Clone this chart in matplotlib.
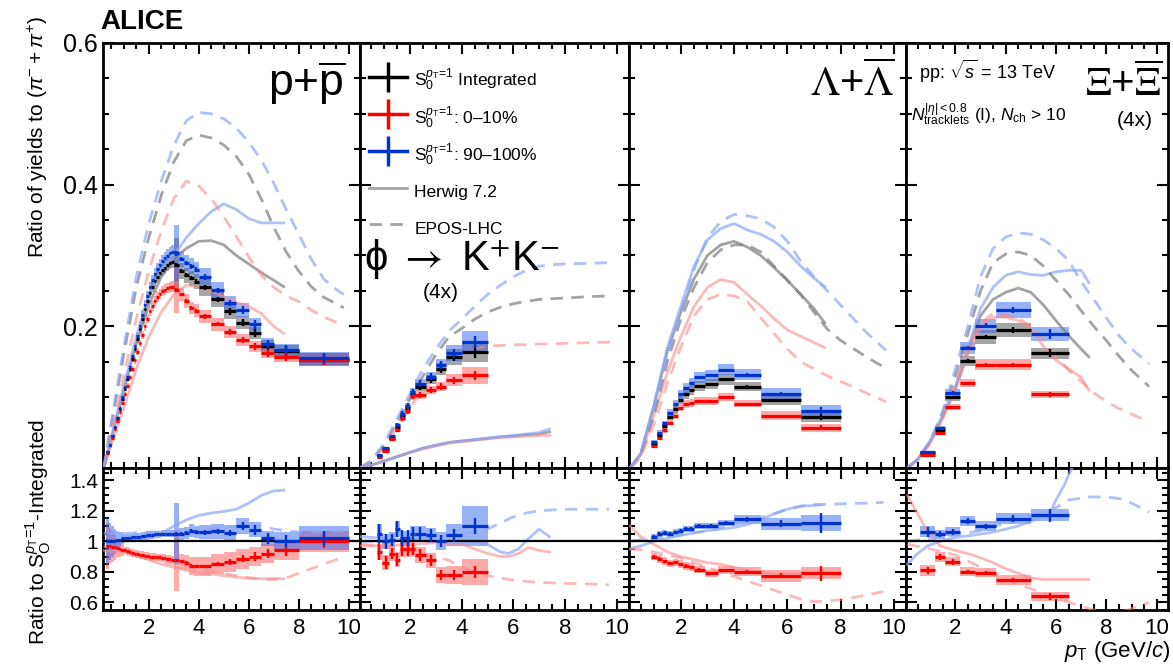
import matplotlib
matplotlib.use("Agg")
import matplotlib.pyplot as plt
from matplotlib.patches import Rectangle
from matplotlib.lines import Line2D
from matplotlib.ticker import MultipleLocator, FixedLocator, FixedFormatter

plt.rcParams['font.family'] = ['Liberation Sans', 'DejaVu Sans']
plt.rcParams['mathtext.fontset'] = 'custom'
plt.rcParams['mathtext.rm'] = 'Liberation Sans'
plt.rcParams['mathtext.it'] = 'Liberation Sans:italic'
plt.rcParams['mathtext.bf'] = 'Liberation Sans:bold'

# ---------------- p + pbar ----------------
p_edges = [0.3, 0.4, 0.5, 0.6, 0.7, 0.8, 0.9, 1.0, 1.1, 1.2, 1.3, 1.4, 1.5, 1.6, 1.7, 1.8, 1.9, 2.0,
           2.1, 2.2, 2.3, 2.4, 2.5, 2.6, 2.7, 2.8, 2.9, 3.0, 3.2, 3.4, 3.6, 3.8, 4.0, 4.5, 5.0, 5.5,
           6.0, 6.5, 7.0, 8.0, 10.0]
p_int = [0.022, 0.033, 0.045, 0.057, 0.07, 0.084, 0.098, 0.112, 0.126, 0.14, 0.154, 0.168, 0.182,
         0.196, 0.21, 0.224, 0.236, 0.247, 0.256, 0.264, 0.27, 0.275, 0.279, 0.283, 0.286, 0.289, 0.291,
         0.287, 0.278, 0.272, 0.268, 0.263, 0.255, 0.238, 0.221, 0.205, 0.19, 0.172, 0.165, 0.153]
p_low = [0.021, 0.032, 0.043, 0.055, 0.067, 0.079, 0.092, 0.104, 0.116, 0.128, 0.14, 0.152, 0.164,
         0.176, 0.188, 0.2, 0.211, 0.221, 0.229, 0.236, 0.242, 0.246, 0.25, 0.252, 0.254, 0.255, 0.256,
         0.252, 0.245, 0.236, 0.226, 0.222, 0.214, 0.203, 0.192, 0.181, 0.172, 0.163, 0.157, 0.153]
p_high = [0.022, 0.033, 0.045, 0.058, 0.071, 0.085, 0.1, 0.114, 0.129, 0.143, 0.158, 0.172, 0.187,
          0.201, 0.216, 0.23, 0.243, 0.255, 0.265, 0.274, 0.281, 0.287, 0.292, 0.296, 0.3, 0.303, 0.305,
          0.303, 0.295, 0.289, 0.285, 0.28, 0.27, 0.251, 0.233, 0.223, 0.203, 0.175, 0.167, 0.155]
p_rlow = [0.97, 0.97, 0.965, 0.96, 0.955, 0.95, 0.945, 0.94, 0.935, 0.93, 0.925, 0.92, 0.915, 0.91,
          0.91, 0.905, 0.905, 0.9, 0.9, 0.9, 0.895, 0.895, 0.89, 0.89, 0.885, 0.885, 0.88,
          0.875, 0.87, 0.86, 0.84, 0.835, 0.835, 0.85, 0.865, 0.885, 0.9, 0.92, 0.94, 1.0]
p_rhigh = [1.0, 1.0, 1.0, 1.0, 1.01, 1.01, 1.02, 1.02, 1.02, 1.02, 1.025, 1.03, 1.03, 1.03, 1.035,
           1.035, 1.04, 1.04, 1.04, 1.045, 1.045, 1.045, 1.05, 1.05, 1.05, 1.05, 1.05,
           1.05, 1.05, 1.055, 1.07, 1.06, 1.06, 1.065, 1.055, 1.1, 1.075, 1.02, 1.0, 1.02]
p_stat = [0.004] * 27 + [0.01, 0.01, 0.01, 0.012, 0.012, 0.015, 0.015, 0.02, 0.025, 0.03, 0.035, 0.04, 0.045]
p_sys = [0.03] * 27 + [0.13, 0.04, 0.04, 0.04, 0.04, 0.045, 0.045, 0.045, 0.045, 0.045, 0.05, 0.05, 0.06]
p_rsys_low = [0.15, 0.12, 0.1, 0.08, 0.06, 0.05, 0.04] + [0.025] * 20 + \
             [0.2, 0.05, 0.05, 0.06, 0.06, 0.06, 0.065, 0.065, 0.065, 0.065, 0.065, 0.065, 0.07]
p_rsys_high = [0.15, 0.12, 0.1, 0.08, 0.06, 0.05, 0.04] + [0.025] * 20 + \
              [0.2, 0.04, 0.04, 0.04, 0.04, 0.045, 0.05, 0.05, 0.05, 0.05, 0.05, 0.06, 0.08]

p_hw_x = [0.2, 1.0, 1.5, 2.0, 2.5, 3.0, 3.5, 4.0, 4.5, 5.0, 5.5, 6.0, 6.5, 7.0, 7.4]
p_hw_int = [0.0, 0.11, 0.175, 0.23, 0.27, 0.295, 0.31, 0.32, 0.321, 0.315, 0.3, 0.288, 0.276, 0.265, 0.256]
p_hw_low = [0.0, 0.085, 0.14, 0.185, 0.22, 0.245, 0.258, 0.256, 0.25, 0.242, 0.234, 0.228, 0.218, 0.2, 0.19]
p_hw_high = [0.0, 0.115, 0.185, 0.245, 0.28, 0.3, 0.325, 0.345, 0.362, 0.373, 0.365, 0.352, 0.346, 0.346, 0.346]
p_hw_rlow = [0.94, 0.93, 0.91, 0.88, 0.85, 0.83, 0.81, 0.795, 0.785, 0.775, 0.765, 0.76, 0.755, 0.755, 0.755]
p_hw_rhigh = [1.0, 1.0, 1.01, 1.02, 1.05, 1.1, 1.14, 1.17, 1.185, 1.195, 1.21, 1.25, 1.3, 1.33, 1.335]
p_ep_x = [0.2, 1.0, 1.5, 2.0, 2.5, 3.0, 3.5, 4.0, 4.5, 5.0, 5.5, 6.0, 6.5, 7.0, 7.5, 8.0, 8.5, 9.0, 9.5, 9.8]
p_ep_int = [0.0, 0.16, 0.255, 0.325, 0.385, 0.432, 0.462, 0.47, 0.466, 0.456, 0.44, 0.415, 0.38, 0.34,
            0.305, 0.278, 0.256, 0.241, 0.232, 0.226]
p_ep_low = [0.0, 0.13, 0.21, 0.278, 0.335, 0.38, 0.405, 0.398, 0.38, 0.355, 0.327, 0.298, 0.272, 0.255,
            0.243, 0.235, 0.223, 0.213, 0.206, 0.2]
p_ep_high = [0.0, 0.17, 0.27, 0.345, 0.405, 0.455, 0.49, 0.502, 0.5, 0.493, 0.48, 0.46, 0.435, 0.402,
             0.365, 0.33, 0.295, 0.267, 0.252, 0.245]
p_ep_rlow = [0.97, 0.95, 0.92, 0.88, 0.865, 0.85, 0.835, 0.82, 0.805, 0.79, 0.775, 0.76, 0.75, 0.75,
             0.76, 0.79, 0.82, 0.85, 0.88, 0.9]
p_ep_rhigh = [1.05, 1.05, 1.055, 1.06, 1.06, 1.06, 1.065, 1.07, 1.08, 1.09, 1.1, 1.11, 1.1, 1.08,
              1.07, 1.06, 1.06, 1.06, 1.065, 1.07]

# ---------------- phi (4x) ----------------
phi_edges = [0.7, 0.9, 1.2, 1.4, 1.6, 1.8, 2.0, 2.2, 2.6, 3.0, 3.4, 4.0, 5.0]
phi_int = [0.017, 0.027, 0.043, 0.058, 0.073, 0.085, 0.104, 0.114, 0.125, 0.14, 0.157, 0.164]
phi_low = [0.015, 0.024, 0.041, 0.054, 0.07, 0.08, 0.101, 0.103, 0.11, 0.115, 0.124, 0.131]
phi_high = [0.018, 0.028, 0.045, 0.061, 0.076, 0.087, 0.107, 0.119, 0.129, 0.145, 0.162, 0.178]
phi_rlow = [0.93, 0.86, 0.92, 0.88, 0.95, 0.95, 0.95, 0.91, 0.875, 0.78, 0.78, 0.8]
phi_rhigh = [1.05, 1.0, 1.01, 1.08, 1.02, 1.02, 1.05, 1.05, 1.04, 1.0, 1.04, 1.1]
phi_stat = [0.06, 0.05, 0.04, 0.05, 0.05, 0.05, 0.04, 0.04, 0.04, 0.04, 0.04, 0.05]
phi_sys = [0.05] * 9 + [0.06, 0.07, 0.09]
phi_rsys_low = [0.05] * 10 + [0.06, 0.085]
phi_rsys_high = [0.06, 0.05, 0.05, 0.05, 0.05, 0.05, 0.05, 0.05, 0.05, 0.06, 0.07, 0.13]

phi_hw_x = [0.05, 0.5, 1.0, 1.5, 2.0, 2.5, 3.0, 3.5, 4.0, 4.5, 5.0, 5.5, 6.0, 6.5, 7.0, 7.4]
phi_hw_int = [0.0, 0.004, 0.01, 0.016, 0.022, 0.028, 0.032, 0.036, 0.038, 0.04, 0.042, 0.044, 0.045, 0.047, 0.048, 0.051]
phi_hw_low = [0.0, 0.004, 0.01, 0.016, 0.022, 0.027, 0.031, 0.035, 0.037, 0.039, 0.041, 0.043, 0.044, 0.045, 0.046, 0.046]
phi_hw_high = [0.0, 0.004, 0.01, 0.016, 0.022, 0.028, 0.032, 0.036, 0.038, 0.04, 0.042, 0.044, 0.046, 0.048, 0.05, 0.055]
phi_hwr_x = [0.1, 1.0, 2.0, 3.0, 4.0, 4.5, 5.0, 5.5, 5.8, 6.2, 6.6, 7.0, 7.4]
phi_hw_rlow = [0.97, 0.97, 0.98, 0.99, 0.98, 0.95, 0.92, 0.9, 0.9, 0.92, 0.96, 0.94, 0.93]
phi_hw_rhigh = [1.03, 1.02, 1.01, 1.0, 1.0, 1.0, 0.98, 0.93, 0.92, 0.95, 1.02, 1.08, 1.03]
phi_ep_x = [0.05, 0.5, 1.0, 1.5, 2.0, 2.5, 3.0, 3.5, 4.0, 4.5, 5.0, 5.5, 6.0, 6.5, 7.0, 7.5, 8.0, 9.0, 9.8]
phi_ep_int = [0.0, 0.01, 0.033, 0.065, 0.098, 0.13, 0.16, 0.185, 0.197, 0.21, 0.22, 0.227, 0.232, 0.235,
              0.238, 0.239, 0.24, 0.242, 0.243]
phi_ep_low = [0.0, 0.009, 0.03, 0.058, 0.086, 0.11, 0.13, 0.148, 0.16, 0.168, 0.172, 0.173, 0.174, 0.174,
              0.175, 0.175, 0.176, 0.177, 0.178]
phi_ep_high = [0.0, 0.01, 0.035, 0.07, 0.105, 0.14, 0.168, 0.193, 0.21, 0.228, 0.245, 0.258, 0.27, 0.279,
               0.285, 0.287, 0.288, 0.289, 0.29]
phi_epr_x = [0.1, 1.0, 2.0, 3.0, 3.5, 4.0, 4.5, 5.0, 5.5, 6.0, 6.5, 7.0, 8.0, 9.0, 9.7]
phi_ep_rlow = [0.98, 0.97, 0.93, 0.9, 0.875, 0.83, 0.8, 0.775, 0.76, 0.745, 0.738, 0.73, 0.725, 0.72, 0.715]
phi_ep_rhigh = [1.0, 1.0, 1.01, 1.03, 1.04, 1.05, 1.06, 1.08, 1.12, 1.16, 1.185, 1.2, 1.21, 1.21, 1.21]

# ---------------- Lambda ----------------
lam_edges = [0.9, 1.1, 1.3, 1.5, 1.7, 1.9, 2.1, 2.3, 2.5, 2.9, 3.4, 4.0, 5.0, 6.5, 8.0]
lam_int = [0.034, 0.046, 0.059, 0.072, 0.083, 0.096, 0.104, 0.11, 0.116, 0.118, 0.125, 0.115, 0.096, 0.072]
lam_low = [0.031, 0.042, 0.053, 0.064, 0.074, 0.085, 0.09, 0.092, 0.094, 0.095, 0.1, 0.091, 0.074, 0.057]
lam_high = [0.037, 0.05, 0.063, 0.078, 0.09, 0.104, 0.113, 0.12, 0.128, 0.131, 0.139, 0.132, 0.105, 0.081]
lam_rlow = [0.9, 0.885, 0.87, 0.855, 0.862, 0.85, 0.84, 0.83, 0.815, 0.79, 0.81, 0.8, 0.775, 0.79]
lam_rhigh = [1.03, 1.05, 1.055, 1.05, 1.06, 1.07, 1.08, 1.08, 1.1, 1.1, 1.12, 1.145, 1.115, 1.12]
lam_stat = [0.01] * 11 + [0.015, 0.02, 0.06]
lam_sys = [0.06] * 12 + [0.08, 0.1]
lam_rsys_low = [0.025] * 11 + [0.03, 0.04, 0.04]
lam_rsys_high = [0.02] * 11 + [0.03, 0.04, 0.05]

lam_hw_x = [0.1, 0.5, 1.0, 1.5, 2.0, 2.5, 3.0, 3.5, 4.0, 4.5, 5.0, 5.5, 6.0, 6.5, 7.0, 7.4]
lam_hw_int = [0.0, 0.02, 0.088, 0.165, 0.22, 0.267, 0.3, 0.315, 0.32, 0.312, 0.3, 0.283, 0.265, 0.245, 0.225, 0.205]
lam_hw_low = [0.0, 0.018, 0.075, 0.135, 0.185, 0.228, 0.255, 0.266, 0.262, 0.245, 0.229, 0.211, 0.195, 0.186, 0.177, 0.17]
lam_hw_high = [0.0, 0.02, 0.09, 0.17, 0.228, 0.285, 0.322, 0.338, 0.345, 0.336, 0.33, 0.32, 0.305, 0.285, 0.268, 0.256]
lam_hwr_x = [0.1, 0.5, 1.0, 1.5, 2.0, 2.5, 3.0, 3.5, 4.0, 4.5, 5.0, 5.5, 6.0, 6.5, 7.0, 7.3]
lam_hw_rlow = [1.1, 1.03, 0.98, 0.93, 0.9, 0.88, 0.86, 0.85, 0.83, 0.81, 0.8, 0.79, 0.79, 0.79, 0.79, 0.8]
lam_hw_rhigh = [0.95, 0.97, 1.0, 1.02, 1.04, 1.055, 1.07, 1.08, 1.09, 1.11, 1.14, 1.18, 1.21, 1.23, 1.235, 1.24]
lam_ep_x = [0.1, 0.5, 1.0, 1.5, 2.0, 2.5, 3.0, 3.5, 4.0, 4.5, 5.0, 5.5, 6.0, 6.5, 7.0, 7.5, 8.0, 8.5, 9.0, 9.5, 9.7]
lam_ep_int = [0.0, 0.018, 0.075, 0.15, 0.21, 0.255, 0.29, 0.308, 0.315, 0.315, 0.305, 0.285, 0.265, 0.245,
              0.22, 0.196, 0.18, 0.168, 0.156, 0.145, 0.141]
lam_ep_low = [0.0, 0.015, 0.062, 0.12, 0.17, 0.215, 0.238, 0.245, 0.243, 0.235, 0.212, 0.19, 0.168, 0.15,
              0.14, 0.13, 0.122, 0.114, 0.105, 0.097, 0.093]
lam_ep_high = [0.0, 0.02, 0.085, 0.16, 0.22, 0.28, 0.325, 0.348, 0.358, 0.356, 0.352, 0.34, 0.32, 0.292,
               0.27, 0.25, 0.23, 0.21, 0.19, 0.173, 0.166]
lam_epr_x = [0.1, 0.5, 1.0, 2.0, 3.0, 3.5, 4.0, 4.5, 5.0, 5.5, 6.0, 6.5, 7.0, 7.5, 8.0, 8.5, 9.0, 9.6]
lam_ep_rlow = [0.95, 0.945, 0.93, 0.89, 0.83, 0.8, 0.77, 0.74, 0.71, 0.68, 0.65, 0.62, 0.605, 0.608,
               0.618, 0.632, 0.65, 0.67]
lam_ep_rhigh = [1.0, 1.01, 1.02, 1.04, 1.07, 1.09, 1.11, 1.13, 1.155, 1.18, 1.21, 1.23, 1.24, 1.242,
                1.245, 1.248, 1.25, 1.255]

# ---------------- Xi (4x) ----------------
xi_edges = [0.6, 1.2, 1.6, 2.2, 2.8, 3.6, 5.0, 6.5]
xi_int = [0.021, 0.054, 0.1, 0.151, 0.185, 0.195, 0.162]
xi_low = [0.018, 0.05, 0.086, 0.12, 0.146, 0.146, 0.104]
xi_high = [0.023, 0.057, 0.106, 0.17, 0.201, 0.223, 0.189]
xi_rlow = [0.81, 0.897, 0.865, 0.8, 0.794, 0.746, 0.639]
xi_rhigh = [1.062, 1.047, 1.062, 1.133, 1.1, 1.148, 1.17]
xi_stat = [0.03, 0.02, 0.02, 0.015, 0.015, 0.02, 0.035]
xi_sys = [0.05] * 7
xi_rsys_low = [0.035, 0.03, 0.03, 0.03, 0.03, 0.03, 0.03]
xi_rsys_high = [0.035, 0.03, 0.03, 0.035, 0.03, 0.035, 0.04]

xi_hw_x = [0.1, 0.5, 1.0, 1.5, 2.0, 2.5, 3.0, 3.5, 4.0, 4.5, 5.0, 5.5, 6.0, 6.5, 7.0, 7.3]
xi_hw_int = [0.0, 0.012, 0.037, 0.072, 0.112, 0.165, 0.215, 0.238, 0.248, 0.254, 0.248, 0.23, 0.208, 0.187, 0.168, 0.157]
xi_hw_low = [0.0, 0.012, 0.035, 0.07, 0.11, 0.16, 0.2, 0.213, 0.213, 0.208, 0.196, 0.172, 0.152, 0.14, 0.128, 0.11]
xi_hw_high = [0.0, 0.012, 0.038, 0.075, 0.115, 0.17, 0.225, 0.255, 0.272, 0.277, 0.273, 0.272, 0.277, 0.279, 0.279, 0.262]
xi_hwr_x = [0.1, 0.5, 0.9, 1.4, 2.0, 2.7, 3.5, 4.0, 4.5, 5.0, 5.5, 5.8, 6.0, 6.3, 6.55, 7.0, 7.3]
xi_hw_rlow = [1.3, 1.18, 1.06, 0.97, 0.94, 0.91, 0.86, 0.82, 0.79, 0.76, 0.75, 0.75, 0.75, 0.75, 0.75, 0.75, 0.75]
xi_hw_rhigh = [0.85, 0.92, 0.97, 1.0, 1.025, 1.04, 1.06, 1.08, 1.1, 1.13, 1.17, 1.2, 1.27, 1.36, 1.45, 1.6, 1.65]
xi_ep_x = [0.1, 0.5, 1.0, 1.5, 2.0, 2.5, 3.0, 3.5, 4.0, 4.5, 5.0, 5.5, 6.0, 6.5, 7.0, 7.5, 8.0, 8.5, 9.0, 9.7]
xi_ep_int = [0.0, 0.012, 0.037, 0.078, 0.13, 0.19, 0.25, 0.29, 0.302, 0.305, 0.3, 0.285, 0.265, 0.245,
             0.222, 0.2, 0.18, 0.158, 0.138, 0.115]
xi_ep_low = [0.0, 0.012, 0.036, 0.073, 0.12, 0.17, 0.205, 0.218, 0.216, 0.212, 0.2, 0.182, 0.158, 0.138,
             0.122, 0.106, 0.094, 0.084, 0.076, 0.065]
xi_ep_high = [0.0, 0.012, 0.038, 0.08, 0.14, 0.2, 0.27, 0.31, 0.326, 0.332, 0.33, 0.322, 0.31, 0.293,
              0.263, 0.238, 0.212, 0.187, 0.168, 0.147]
xi_epr_x = [0.1, 1.0, 2.0, 3.0, 4.0, 5.0, 5.8, 6.5, 7.3, 8.0, 8.5, 9.0, 9.7]
xi_ep_rlow = [0.98, 0.95, 0.91, 0.83, 0.75, 0.69, 0.64, 0.6, 0.56, 0.53, 0.53, 0.56, 0.6]
xi_ep_rhigh = [1.0, 1.02, 1.04, 1.07, 1.12, 1.16, 1.2, 1.27, 1.29, 1.29, 1.28, 1.25, 1.19]

# colours
C_INT, C_LOW, C_HIGH = 'black', '#ff0000', '#0033cc'
F_INT, F_LOW, F_HIGH = (0.3, 0.3, 0.3, 0.5), (1.0, 0.25, 0.25, 0.45), (0.2, 0.4, 0.95, 0.5)
M_INT, M_LOW, M_HIGH = (0.5, 0.5, 0.5, 0.72), (0.97, 0.55, 0.55, 0.6), (0.55, 0.66, 0.97, 0.7)
DASH = (0, (4.5, 3))

panels = [
    dict(edges=p_edges, int=p_int, low=p_low, high=p_high, rlow=p_rlow, rhigh=p_rhigh, stat=p_stat,
         sys=p_sys, rsl=p_rsys_low, rsh=p_rsys_high,
         hw=(p_hw_x, p_hw_int, p_hw_low, p_hw_high), hwr=(p_hw_x, p_hw_rlow, p_hw_rhigh),
         ep=(p_ep_x, p_ep_int, p_ep_low, p_ep_high), epr=(p_ep_x, p_ep_rlow, p_ep_rhigh),
         px=(103, 360), xlim=(0.17, 10.45)),
    dict(edges=phi_edges, int=phi_int, low=phi_low, high=phi_high, rlow=phi_rlow, rhigh=phi_rhigh,
         stat=phi_stat, sys=phi_sys, rsl=phi_rsys_low, rsh=phi_rsys_high,
         hw=(phi_hw_x, phi_hw_int, phi_hw_low, phi_hw_high), hwr=(phi_hwr_x, phi_hw_rlow, phi_hw_rhigh),
         ep=(phi_ep_x, phi_ep_int, phi_ep_low, phi_ep_high), epr=(phi_epr_x, phi_ep_rlow, phi_ep_rhigh),
         px=(360, 629), xlim=(0.06, 10.48)),
    dict(edges=lam_edges, int=lam_int, low=lam_low, high=lam_high, rlow=lam_rlow, rhigh=lam_rhigh,
         stat=lam_stat, sys=lam_sys, rsl=lam_rsys_low, rsh=lam_rsys_high,
         hw=(lam_hw_x, lam_hw_int, lam_hw_low, lam_hw_high), hwr=(lam_hwr_x, lam_hw_rlow, lam_hw_rhigh),
         ep=(lam_ep_x, lam_ep_int, lam_ep_low, lam_ep_high), epr=(lam_epr_x, lam_ep_rlow, lam_ep_rhigh),
         px=(629, 906), xlim=(0.06, 10.45)),
    dict(edges=xi_edges, int=xi_int, low=xi_low, high=xi_high, rlow=xi_rlow, rhigh=xi_rhigh,
         stat=xi_stat, sys=xi_sys, rsl=xi_rsys_low, rsh=xi_rsys_high,
         hw=(xi_hw_x, xi_hw_int, xi_hw_low, xi_hw_high), hwr=(xi_hwr_x, xi_hw_rlow, xi_hw_rhigh),
         ep=(xi_ep_x, xi_ep_int, xi_ep_low, xi_ep_high), epr=(xi_epr_x, xi_ep_rlow, xi_ep_rhigh),
         px=(906, 1168), xlim=(0.04, 10.45)),
]

W, H = 1173, 671
fig = plt.figure(figsize=(W / 100, H / 100), dpi=100)


def draw_points(ax, edges, y, sys, stat, color, fill):
    lo, hi = edges[:-1], edges[1:]
    for a, b, v, s in zip(lo, hi, y, sys):
        ax.add_patch(Rectangle((a, v - s), b - a, 2 * s, facecolor=fill, edgecolor='none', zorder=2))
    xc = [(a + b) / 2 for a, b in zip(lo, hi)]
    ax.hlines(y, lo, hi, colors=color, lw=2.3, zorder=5)
    ax.errorbar(xc, y, yerr=stat, fmt='none', ecolor=color, elinewidth=1.7, capsize=0, zorder=5)


def style(ax, xlim, ylim, yticks, ylabels, yminor, show_x, show_y, ytsize):
    ax.set_xlim(*xlim)
    ax.set_ylim(*ylim)
    ax.xaxis.set_major_locator(FixedLocator([2, 4, 6, 8, 10]))
    ax.xaxis.set_minor_locator(MultipleLocator(0.5))
    ax.yaxis.set_major_locator(FixedLocator(yticks))
    ax.yaxis.set_minor_locator(MultipleLocator(yminor))
    ax.yaxis.set_major_formatter(FixedFormatter(ylabels))
    ax.tick_params(which='both', direction='in', top=True, right=True, width=1.5)
    ax.tick_params(which='major', length=8)
    ax.tick_params(which='minor', length=4)
    ax.tick_params(axis='x', labelsize=16, labelbottom=show_x, pad=6)
    ax.tick_params(axis='y', labelsize=ytsize, labelleft=show_y)
    for s in ax.spines.values():
        s.set_linewidth(2)


top_axes, bot_axes = [], []
for i, p in enumerate(panels):
    x0, x1 = p['px']
    axt = fig.add_axes([x0 / W, 1 - 468 / H, (x1 - x0) / W, (468 - 43) / H])
    axb = fig.add_axes([x0 / W, 1 - 610 / H, (x1 - x0) / W, (610 - 468) / H])
    top_axes.append(axt)
    bot_axes.append(axb)

    # top: yields ratio
    for key, col, fill in (('int', C_INT, F_INT), ('low', C_LOW, F_LOW), ('high', C_HIGH, F_HIGH)):
        y = p[key]
        sys = [v * r for v, r in zip(y, p['sys'])]
        stat = [v * r for v, r in zip(y, p['stat'])]
        draw_points(axt, p['edges'], y, sys, stat, col, fill)
    hx, hi_, hl, hh = p['hw']
    ex, ei, el, eh = p['ep']
    for yy, c in ((hi_, M_INT), (hl, M_LOW), (hh, M_HIGH)):
        axt.plot(hx, yy, color=c, lw=2, zorder=3)
    for yy, c in ((ei, M_INT), (el, M_LOW), (eh, M_HIGH)):
        axt.plot(ex, yy, color=c, lw=2, ls=DASH, zorder=3)
    style(axt, p['xlim'], (0, 0.6), [0.2, 0.4, 0.6], ['0.2', '0.4', '0.6'], 0.05,
          False, i == 0, 18)

    # bottom: ratio to integrated
    for key, skey, col, fill in (('rlow', 'rsl', C_LOW, F_LOW), ('rhigh', 'rsh', C_HIGH, F_HIGH)):
        y = p[key]
        stat = [v * r for v, r in zip(y, p['stat'])]
        draw_points(axb, p['edges'], y, p[skey], stat, col, fill)
    rx, rl, rh = p['hwr']
    axb.plot(rx, rl, color=M_LOW, lw=2, zorder=3)
    axb.plot(rx, rh, color=M_HIGH, lw=2, zorder=3)
    rx, rl, rh = p['epr']
    axb.plot(rx, rl, color=M_LOW, lw=2, ls=DASH, zorder=3)
    axb.plot(rx, rh, color=M_HIGH, lw=2, ls=DASH, zorder=3)
    axb.axhline(1.0, color='black', lw=1.6, zorder=4)
    style(axb, p['xlim'], (0.55, 1.48), [0.6, 0.8, 1.0, 1.2, 1.4],
          ['0.6', '0.8', '1', '1.2', '1.4'], 0.05, True, i == 0, 15)

# panel labels
top_axes[0].text(0.945, 0.905, r"p+$\overline{\mathrm{p}}$", transform=top_axes[0].transAxes,
                 ha='right', va='center', fontsize=32)
top_axes[1].text(0.015, 0.49, "\u03d5 $\\rightarrow$ K$^{+}$K$^{-}$", transform=top_axes[1].transAxes,
                 ha='left', va='center', fontsize=30, math_fontfamily='stix')
top_axes[1].text(0.30, 0.412, "(4x)", transform=top_axes[1].transAxes, ha='center', va='center',
                 fontsize=15)
top_axes[2].text(0.96, 0.905, r"$\Lambda$+$\overline{\Lambda}$", transform=top_axes[2].transAxes,
                 ha='right', va='center', fontsize=30, math_fontfamily='stix')
top_axes[3].text(0.98, 0.905, r"$\Xi$+$\overline{\Xi}$", transform=top_axes[3].transAxes,
                 ha='right', va='center', fontsize=29, math_fontfamily='stix')
top_axes[3].text(0.874, 0.818, "(4x)", transform=top_axes[3].transAxes, ha='center', va='center',
                 fontsize=15)
top_axes[3].text(0.05, 0.932, r"pp: $\sqrt{s}$ = 13 TeV", transform=top_axes[3].transAxes,
                 ha='left', va='center', fontsize=13)
top_axes[3].text(0.02, 0.83, r"$N_{\mathrm{tracklets}}^{|\eta|<0.8}$ (I), $N_{\mathrm{ch}}$ > 10",
                 transform=top_axes[3].transAxes, ha='left', va='center', fontsize=12.5)

# legend
handles = [
    Line2D([], [], color=C_INT, lw=2.5, marker='|', markersize=22, markeredgewidth=2.5),
    Line2D([], [], color=C_LOW, lw=2.5, marker='|', markersize=22, markeredgewidth=2.5),
    Line2D([], [], color=C_HIGH, lw=2.5, marker='|', markersize=22, markeredgewidth=2.5),
    Line2D([], [], color=M_INT, lw=2),
    Line2D([], [], color=M_INT, lw=2, ls=DASH),
]
sup = r"S$_{0}^{p_{\mathrm{T}}\!=\!1}$"
labels = [sup + " Integrated", sup + ": 0–10%", sup + ": 90–100%", "Herwig 7.2", "EPOS-LHC"]
top_axes[1].legend(handles, labels, loc='upper left', bbox_to_anchor=(-0.005, 0.968), frameon=False,
                   fontsize=12.5, handlelength=2.2, handleheight=1.9, handletextpad=0.4,
                   labelspacing=0.62, borderaxespad=0.2)

fig.text(100 / W, 1 - 22 / H, "ALICE", fontsize=20, fontweight='bold', ha='left', va='center')
fig.text(38 / W, 1 - 137 / H, r"Ratio of yields to $(\pi^{-}+\pi^{+})$", rotation=90,
         fontsize=15, ha='center', va='center')
fig.text(38 / W, 1 - 532 / H, r"Ratio to S$_{\mathrm{O}}^{p_{\mathrm{T}}\!=\!1}$-Integrated", rotation=90,
         fontsize=15, ha='center', va='center')
fig.text(1170 / W, 1 - 652 / H, r"$p_{\mathrm{T}}$ (GeV/$c$)", fontsize=16, ha='right', va='center')

fig.savefig("out.png", dpi=100)
